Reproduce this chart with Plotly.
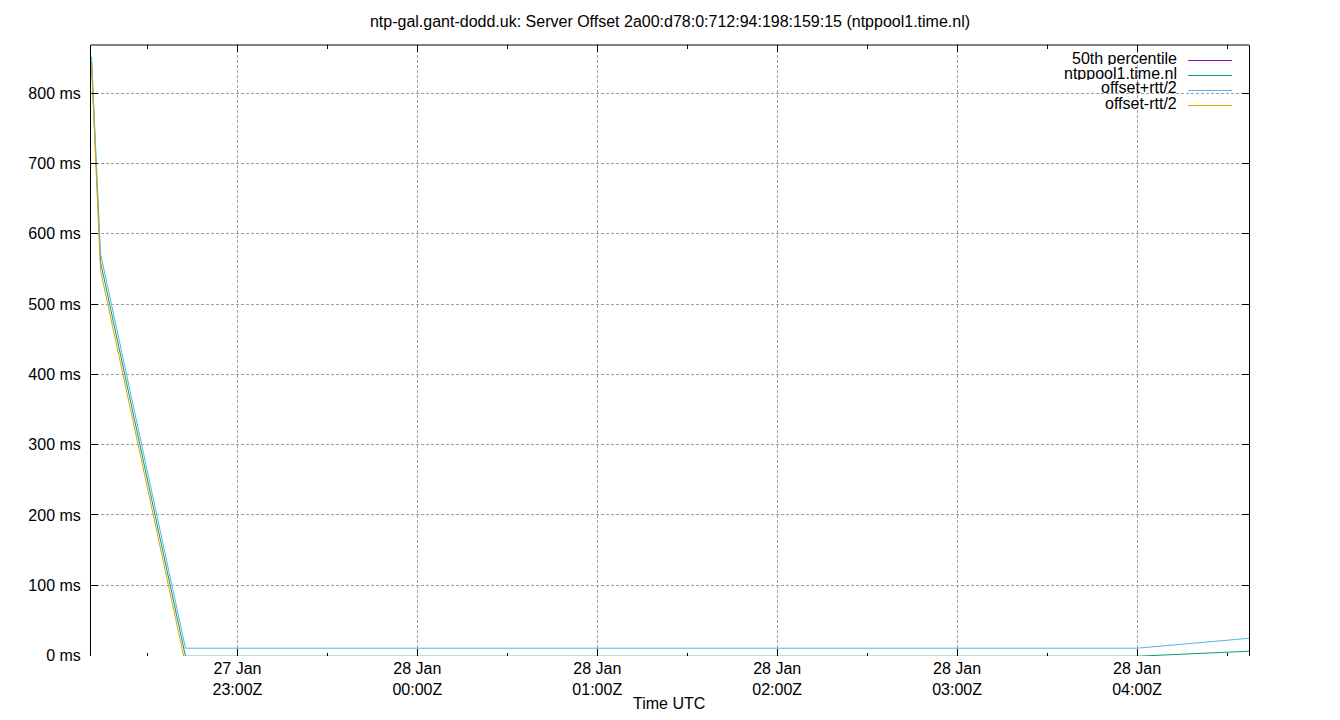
import plotly.graph_objects as go

# poll times (UTC), the server was only sampled a few times
times = ['2025-01-27 22:11:20', '2025-01-27 22:14:20', '2025-01-27 22:42:40',
         '2025-01-28 04:00:00', '2025-01-28 04:37:20']

# offsets in ms
percentile_50 = [-2.0, -2.0, -2.0, -2.0, -2.0]
ntppool_offset = [846, 560, -1.0, -1.0, 6.1]
offset_plus_rtt = [852, 572, 10.4, 10.4, 24.5]
offset_minus_rtt = [840, 548, -12.4, -12.4, -12.3]

series_names = ['50th percentile', 'ntppool1.time.nl', 'offset+rtt/2', 'offset-rtt/2']
series_colors = ['#9400d3', '#009e73', '#56b4e9', '#e69f00']

tick_times = ['2025-01-27 23:00', '2025-01-28 00:00', '2025-01-28 01:00',
              '2025-01-28 02:00', '2025-01-28 03:00', '2025-01-28 04:00']
tick_labels = ['27 Jan<br>23:00Z', '28 Jan<br>00:00Z', '28 Jan<br>01:00Z',
               '28 Jan<br>02:00Z', '28 Jan<br>03:00Z', '28 Jan<br>04:00Z']

x_range = ['2025-01-27 22:11:10', '2025-01-28 04:37:20']
y_range = [-0.7, 868.7]

FONT = 'Liberation Sans, Arial, sans-serif'
PAGE = 8                         # the page body adds 8px around the figure
W, H = 1340 - 2 * PAGE, 720 - 2 * PAGE
L, R, T, B = 91 - PAGE, 1249 - PAGE, 45 - PAGE, 656 - PAGE   # plot box in figure pixels


def px_x(p):
    # screen pixel -> paper x
    return (p - PAGE - L) / (R - L)


def px_y(p):
    # screen pixel -> paper y
    return (B - (p - PAGE)) / (B - T)


fig = go.Figure()

all_series = [percentile_50, ntppool_offset, offset_plus_rtt, offset_minus_rtt]
for name, color, values in zip(series_names, series_colors, all_series):
    fig.add_trace(go.Scatter(
        x=times, y=values, name=name, mode='lines',
        line=dict(color=color, width=1), showlegend=False
    ))

grid = dict(showgrid=True, gridcolor='#a0a0a0', gridwidth=1, griddash='3px,2px')

fig.update_xaxes(
    range=x_range, tickvals=tick_times, ticktext=tick_labels,
    ticks='inside', ticklen=7, tickcolor='black', mirror='ticks',
    showline=False, zeroline=False, ticklabelstandoff=1, automargin=False,
    minor=dict(dtick=30 * 60 * 1000, tick0='2025-01-27 23:00', ticks='inside',
               ticklen=3.5, tickcolor='black', showgrid=False),
    tickfont=dict(family=FONT, size=16, color='black'),
    **grid
)
fig.update_yaxes(
    range=y_range, tick0=0, dtick=100, ticksuffix=' ms',
    ticks='inside', ticklen=7, tickcolor='black', mirror='ticks',
    showline=True, linecolor='black', linewidth=1, zeroline=False,
    tickfont=dict(family=FONT, size=16, color='black'), ticklabelstandoff=6,
    automargin=False,
    **grid
)

# top border line, bottom is left open like the original
shapes = [dict(type='line', xref='paper', yref='paper', x0=0, x1=1, y0=1, y1=1,
               line=dict(color='black', width=1))]

# key box in the top right corner, text on the left of the sample line
shapes.append(dict(type='rect', xref='paper', yref='paper', layer='between',
                   x0=px_x(1037), x1=1, y0=px_y(113), y1=1,
                   fillcolor='white', line=dict(width=0)))
annotations = []
for i, (name, color) in enumerate(zip(series_names, series_colors)):
    text_y = 58 + 15 * i
    line_y = 60.5 + 15 * i
    annotations.append(dict(
        text=name, xref='paper', yref='paper', x=px_x(1179), y=px_y(text_y),
        xanchor='right', yanchor='middle', showarrow=False, height=13,
        font=dict(family=FONT, size=16, color='black')
    ))
    shapes.append(dict(type='line', xref='paper', yref='paper',
                       x0=px_x(1188), x1=px_x(1232), y0=px_y(line_y), y1=px_y(line_y),
                       line=dict(color=color, width=1)))

annotations.append(dict(
    text='Time UTC', xref='paper', yref='paper', x=px_x(669), y=px_y(703),
    xanchor='center', yanchor='middle', showarrow=False, height=12,
    font=dict(family=FONT, size=16, color='black')
))

fig.update_layout(
    width=W, height=H,
    margin=dict(l=L, r=W - R, t=T, b=H - B),
    plot_bgcolor='white', paper_bgcolor='white',
    title=dict(text='ntp-gal.gant-dodd.uk: Server Offset 2a00:d78:0:712:94:198:159:15 (ntppool1.time.nl)',
               x=0.5, xref='container', xanchor='center',
               y=1 - (21 - PAGE) / H, yref='container', yanchor='middle',
               font=dict(family=FONT, size=16, color='black')),
    shapes=shapes, annotations=annotations,
    font=dict(family=FONT, size=16, color='black')
)

fig.write_html('out.html')
